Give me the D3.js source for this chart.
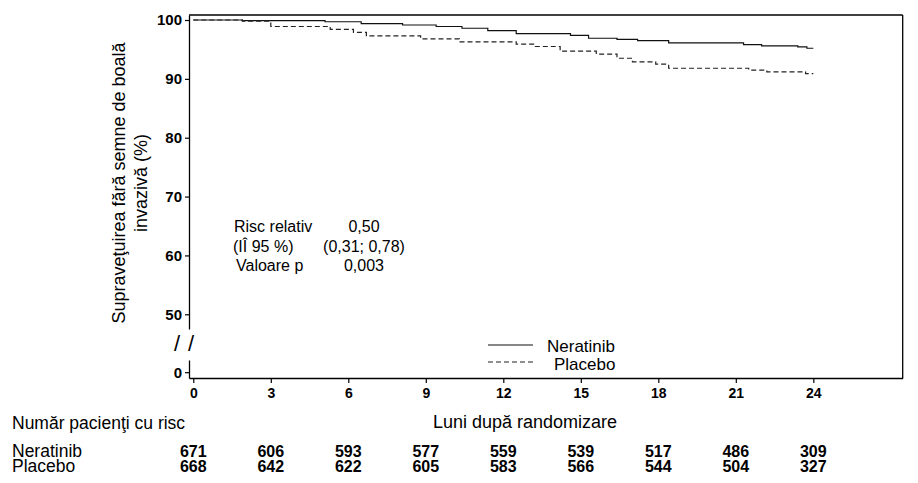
<!DOCTYPE html>
<html>
<head>
<meta charset="utf-8">
<script src="https://cdn.jsdelivr.net/npm/d3@7"></script>
<style>
  html, body { margin: 0; padding: 0; background: #fff; }
  svg text { font-family: Arial, "Liberation Sans", sans-serif; fill: #000; }
</style>
</head>
<body>
<svg id="chart" width="918" height="483"></svg>
<script>
// ---- Data ----
const neratinibTimes = [0, 1.9, 5.1, 6.5, 8.1, 9.4, 10.4, 11.4, 12.5, 14.6, 15.3, 16.4, 17.2, 18.4, 21.3, 22.0, 23.4, 23.75, 24];
const neratinibSurv  = [100, 99.9, 99.7, 99.4, 99.15, 98.9, 98.6, 98.2, 97.7, 97.4, 96.9, 96.7, 96.5, 96.1, 95.8, 95.6, 95.45, 95.2, 95.2];
const placeboTimes = [0, 1.9, 3.0, 5.3, 6.2, 6.7, 8.8, 10.3, 12.5, 13.2, 14.2, 15.6, 16.4, 17.0, 17.9, 18.4, 21.5, 22.2, 23.7, 24];
const placeboSurv  = [100, 99.8, 98.9, 98.4, 97.9, 97.3, 96.8, 96.3, 95.9, 95.5, 94.7, 94.2, 93.5, 92.9, 92.5, 91.8, 91.5, 91.2, 90.9, 90.9];
const riskMonths = [0, 3, 6, 9, 12, 15, 18, 21, 24];
const neratinibAtRisk = [671, 606, 593, 577, 559, 539, 517, 486, 309];
const placeboAtRisk   = [668, 642, 622, 605, 583, 566, 544, 504, 327];
const xTicks = [0, 3, 6, 9, 12, 15, 18, 21, 24];
const yTicksUpper = [50, 60, 70, 80, 90, 100];
const yTicksLower = [0];
const seriesNames = ["Neratinib", "Placebo"];

const svg = d3.select("#chart");

// ---- Scales ----
const x = d3.scaleLinear().domain([-0.166, 27.46]).range([189, 902.7]);
const yTop = d3.scaleLinear().domain([47.5, 100.85]).range([329, 15]);
const yLow = d3.scaleLinear().domain([-1.0, 2.1]).range([378, 360]);

// ---- Frame (top and right) ----
svg.append("line").attr("x1", 189).attr("x2", 902.7).attr("y1", 15).attr("y2", 15)
  .attr("stroke", "#000").attr("stroke-width", 1.3);
svg.append("line").attr("x1", 902.7).attr("x2", 902.7).attr("y1", 15).attr("y2", 378)
  .attr("stroke", "#000").attr("stroke-width", 1.3);

// ---- Axes ----
function styleAxis(g, fs) {
  g.selectAll("path.domain").attr("stroke", "#000").attr("stroke-width", 1.3);
  g.selectAll(".tick line").attr("stroke", "#000").attr("stroke-width", 1.2);
  g.selectAll(".tick text").attr("font-family", "Arial, 'Liberation Sans', sans-serif")
    .attr("font-size", fs).attr("font-weight", "bold").attr("fill", "#000");
}

const gx = svg.append("g").attr("transform", "translate(0,378)")
  .call(d3.axisBottom(x).tickValues(xTicks).tickSize(5).tickSizeOuter(0).tickPadding(5).tickFormat(d3.format("d")));
styleAxis(gx, 14);

const gyTop = svg.append("g").attr("transform", "translate(189,0)")
  .call(d3.axisLeft(yTop).tickValues(yTicksUpper).tickSize(4).tickSizeOuter(0).tickPadding(3).tickFormat(d3.format("d")));
styleAxis(gyTop, 15);

const gyLow = svg.append("g").attr("transform", "translate(189,0)")
  .call(d3.axisLeft(yLow).tickValues(yTicksLower).tickSize(4).tickSizeOuter(0).tickPadding(3).tickFormat(d3.format("d")));
styleAxis(gyLow, 15);

// axis break marks
svg.append("text").attr("x", 174).attr("y", 351).attr("font-size", 22).text("/");
svg.append("text").attr("x", 188).attr("y", 351).attr("font-size", 22).text("/");

// ---- Curves ----
const line = d3.line().curve(d3.curveStepAfter).x(d => x(d[0])).y(d => yTop(d[1]));
const nerData = neratinibTimes.map((t, i) => [t, neratinibSurv[i]]);
const plaData = placeboTimes.map((t, i) => [t, placeboSurv[i]]);

svg.append("path").datum(nerData).attr("d", line)
  .attr("fill", "none").attr("stroke", "#111").attr("stroke-width", 1.2);
svg.append("path").datum(plaData).attr("d", line)
  .attr("fill", "none").attr("stroke", "#222").attr("stroke-width", 1.2)
  .attr("stroke-dasharray", "5,3");

// ---- Y axis title ----
const yt = svg.append("text").attr("transform", "translate(125,183) rotate(-90)")
  .attr("text-anchor", "middle").attr("font-size", 18);
yt.append("tspan").attr("x", 0).attr("dy", 0).text("Supraveţuirea fără semne de boală");
yt.append("tspan").attr("x", 0).attr("dy", 22).text("invazivă (%)");

// ---- X axis title ----
svg.append("text").attr("x", 525).attr("y", 428).attr("text-anchor", "middle")
  .attr("font-size", 18).text("Luni după randomizare");

// ---- Statistics annotation ----
const statLabels = ["Risc relativ", "(IÎ 95 %)", "Valoare p"];
const statValues = ["0,50", "(0,31; 0,78)", "0,003"];
const statX = [234, 233, 236];
const statY = [232, 252, 271];
statLabels.forEach((s, i) => {
  svg.append("text").attr("x", statX[i]).attr("y", statY[i]).attr("font-size", 16).text(s);
  svg.append("text").attr("x", 364).attr("y", statY[i]).attr("text-anchor", "middle")
    .attr("font-size", 16).text(statValues[i]);
});

// ---- Legend ----
svg.append("line").attr("x1", 488).attr("x2", 533).attr("y1", 345).attr("y2", 345)
  .attr("stroke", "#111").attr("stroke-width", 1.2);
svg.append("line").attr("x1", 488).attr("x2", 533).attr("y1", 362).attr("y2", 362)
  .attr("stroke", "#222").attr("stroke-width", 1.2).attr("stroke-dasharray", "5,3");
svg.append("text").attr("x", 547).attr("y", 352).attr("font-size", 17).text(seriesNames[0]);
svg.append("text").attr("x", 554).attr("y", 370).attr("font-size", 17).text(seriesNames[1]);

// ---- Number at risk table ----
svg.append("text").attr("x", 12).attr("y", 429).attr("font-size", 17.5).text("Număr pacienţi cu risc");
svg.append("text").attr("x", 12).attr("y", 457).attr("font-size", 17.5).text(seriesNames[0]);
svg.append("text").attr("x", 12).attr("y", 472).attr("font-size", 17.5).text(seriesNames[1]);
riskMonths.forEach((m, i) => {
  svg.append("text").attr("x", x(m)).attr("y", 457).attr("text-anchor", "middle")
    .attr("font-size", 16).attr("font-weight", "bold").text(neratinibAtRisk[i]);
  svg.append("text").attr("x", x(m)).attr("y", 472).attr("text-anchor", "middle")
    .attr("font-size", 16).attr("font-weight", "bold").text(placeboAtRisk[i]);
});
</script>
</body>
</html>
